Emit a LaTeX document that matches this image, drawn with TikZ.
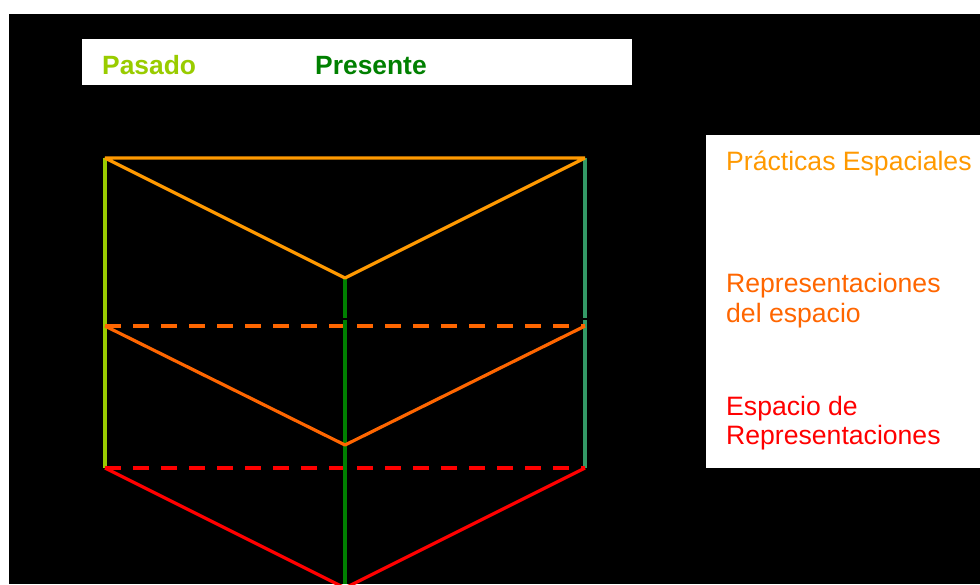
\documentclass[tikz,border=0pt]{standalone}
\usepackage{fontspec}
\setmainfont{Liberation Sans}
\definecolor{pasto}{HTML}{99CC00}
\definecolor{bosque}{HTML}{008000}
\definecolor{marino}{HTML}{339966}
\definecolor{naranja}{HTML}{FF9900}
\definecolor{calabaza}{HTML}{FF6600}
\definecolor{rojo}{HTML}{FF0000}
\tikzset{trazo/.style={line width=3.2pt,line join=bevel},
  raya/.style={trazo,line width=3.6pt,dash pattern=on 16pt off 12pt},
  etiqueta/.style={anchor=base west,inner sep=0pt,font=\fontsize{26.6}{30}\selectfont},
  titulo/.style={etiqueta,font=\fontsize{26.4}{30}\selectfont\bfseries}}

\begin{document}
\begin{tikzpicture}[x=1pt,y=-1pt]
\useasboundingbox (0,0) rectangle (980,584);
\fill[white] (0,0) rectangle (980,584);
\fill[black] (9,14) rectangle (980,584);
\fill[white] (82,39) rectangle (632,85);
\fill[white] (706,135) rectangle (980,468);
\node[titulo,text=pasto] (pasado) at (102,74) {Pasado};
\node[titulo,text=bosque] (presente) at (315,74) {Presente};
\node[etiqueta,text=naranja] (practicas) at (726,170) {Prácticas Espaciales};
\node[etiqueta,text=calabaza] (repr1) at (726,292) {Representaciones};
\node[etiqueta,text=calabaza] (repr2) at (726,322) {del espacio};
\node[etiqueta,text=rojo] (esp1) at (726,415) {Espacio de};
\node[etiqueta,text=rojo] (esp2) at (726,444) {Representaciones};
\coordinate (a1) at (105,158); \coordinate (a2) at (585,158); \coordinate (av) at (345,278);
\coordinate (b1) at (105,326); \coordinate (b2) at (585,326); \coordinate (bv) at (345,445);
\coordinate (c1) at (105,468); \coordinate (c2) at (585,468); \coordinate (cv) at (345,588);
\coordinate (d1) at (585,318); \coordinate (d2) at (585,320);
\coordinate (m1) at (345,318); \coordinate (m2) at (345,320); \coordinate (fin) at (345,584);
\draw[trazo,pasto] (a1)--(c1);
\draw[trazo,marino] (a2)--(d1) (d2)--(c2);
\draw[raya,calabaza] (b1)--(b2);
\draw[raya,rojo] (c1)--(c2);
\draw[trazo,bosque] (av)--(m1) (m2)--(fin);
\draw[trazo,naranja] (a2)--(a1)--(av)--(a2);
\draw[trazo,calabaza] (b1)--(bv)--(b2);
\draw[trazo,rojo] (c1)--(cv)--(c2);
\end{tikzpicture}
\end{document}
